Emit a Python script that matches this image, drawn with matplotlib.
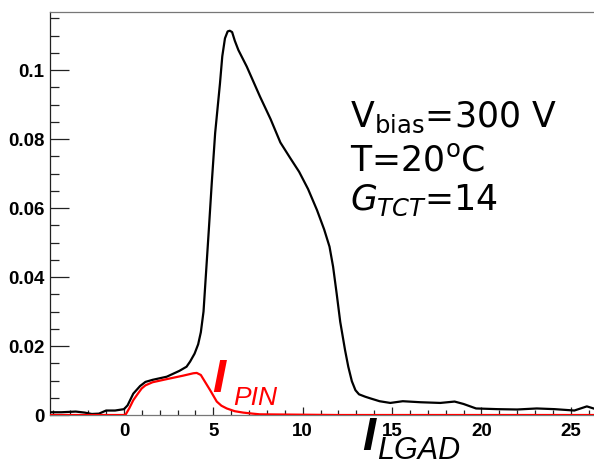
import matplotlib

matplotlib.use('Agg')
import matplotlib.pyplot as plt
from matplotlib.ticker import MultipleLocator, FuncFormatter

# LGAD response (black), time in ns vs. amplitude
t_lgad = [-4.1, -3.5, -2.7, -2.2, -1.8, -1.4, -1.0, -0.5, 0.0, 0.2, 0.52, 0.9, 1.2,
          1.6, 2.39, 3.1, 3.5, 3.7, 3.95, 4.15, 4.3, 4.45, 4.6, 4.75, 4.91, 5.1,
          5.28, 5.37, 5.5, 5.65, 5.8, 5.92, 6.05, 6.2, 6.4, 6.87, 7.61, 8.2, 8.75,
          9.3, 9.8, 10.3, 10.8, 11.2, 11.5, 11.7, 11.9, 12.1, 12.37, 12.55, 12.75,
          12.95, 13.15, 13.5, 13.8, 14.3, 14.9, 15.6, 16.6, 17.7, 18.5, 19.0, 19.7,
          20.9, 22.0, 23.1, 24.1, 25.2, 25.9, 26.4]
a_lgad = [0.0008, 0.0008, 0.001, 0.0007, 0.0003, 0.0004, 0.0013, 0.0013, 0.0017,
          0.0028, 0.0062, 0.0084, 0.0096, 0.0102, 0.0111, 0.0128, 0.014, 0.0155,
          0.0178, 0.0205, 0.0240, 0.0300, 0.0420, 0.0540, 0.0672, 0.0817, 0.0913,
          0.0961, 0.1040, 0.1092, 0.1112, 0.1114, 0.1110, 0.1085, 0.1058, 0.101,
          0.0923, 0.0858, 0.0790, 0.0745, 0.0705, 0.0655, 0.0594, 0.0538, 0.0488,
          0.0430, 0.0352, 0.0270, 0.0188, 0.0140, 0.0098, 0.0072, 0.0060, 0.0053,
          0.0048, 0.0040, 0.0035, 0.004, 0.0037, 0.0035, 0.0039, 0.0032, 0.0019,
          0.0017, 0.0016, 0.0019, 0.0017, 0.0013, 0.0025, 0.0017]

# PIN response (red)
t_pin = [-4.2, 0.0, 0.1, 0.3, 0.52, 0.75, 0.99, 1.2, 1.6, 2.39, 3.3, 3.88, 4.07,
         4.3, 4.5, 4.82, 5.19, 5.45, 5.75, 6.2, 6.67, 7.2, 7.6, 12.0, 26.4]
a_pin = [0.0, 0.0, 0.0002, 0.002, 0.0043, 0.006, 0.0077, 0.0086, 0.0095, 0.0104,
         0.0114, 0.0121, 0.0122, 0.0116, 0.0099, 0.0072, 0.0039, 0.0027, 0.0019,
         0.0011, 0.0007, 0.0004, 0.0002, 0.0, 0.0]

x_range = (-4.14, 26.3)
y_range = (0.0, 0.1168)

plt.rcParams['font.family'] = 'Liberation Sans'
plt.rcParams['mathtext.fontset'] = 'dejavusans'

fig = plt.figure(figsize=(5.94, 4.65), dpi=100)
ax = fig.add_axes([0.0842, 0.1075, 1.0 - 0.0842, 0.974 - 0.1075])

ax.plot(t_lgad, a_lgad, color='black', lw=1.6, zorder=3)
ax.plot(t_pin, a_pin, color='#ff0000', lw=1.6, zorder=4)

ax.set_xlim(*x_range)
ax.set_ylim(*y_range)

ax.spines['right'].set_visible(False)
ax.spines['left'].set_color('#222222')
ax.spines['top'].set_color('#777777')
ax.spines['bottom'].set_color('#777777')
for s in ax.spines.values():
    s.set_linewidth(0.9)

ax.xaxis.set_major_locator(MultipleLocator(5))
ax.xaxis.set_minor_locator(MultipleLocator(1))
ax.yaxis.set_major_locator(MultipleLocator(0.02))
ax.yaxis.set_minor_locator(MultipleLocator(0.005))
ax.yaxis.set_major_formatter(FuncFormatter(lambda v, p: '0' if abs(v) < 1e-9 else f'{v:g}'))

ax.tick_params(axis='y', which='major', direction='in', length=13.5, width=0.9, pad=4,
               color='#222222', labelsize=13.5)
ax.tick_params(axis='y', which='minor', direction='in', length=6.5, width=0.9, color='#222222')
ax.tick_params(axis='x', which='major', direction='in', length=5.5, width=0.9, pad=6,
               color='#222222', labelsize=13.5)
ax.tick_params(axis='x', which='minor', direction='in', length=3.5, width=0.9, color='#222222')
for lab in ax.get_xticklabels() + ax.get_yticklabels():
    lab.set_fontweight('bold')

# run conditions
big = dict(family='DejaVu Sans', size=25, color='black', transform=ax.transAxes)
ax.text(0.551, 0.715, r'V$_{\mathrm{bias}}$=300 V', **big)
ax.text(0.551, 0.608, r'T=20$^{\mathrm{o}}$C', **big)
ax.text(0.551, 0.509, r'$G_{TCT}$=14', **big)

# curve labels
ax.text(4.95, 0.0066, 'I', family='Liberation Sans', style='italic', weight='bold',
        size=34, color='#ff0000', ha='left', va='baseline')
ax.text(6.1, 0.0029, 'PIN', family='Liberation Sans', style='italic',
        size=19, color='#ff0000', ha='left', va='baseline')
ax.text(13.3, -0.0102, 'I', family='Liberation Sans', style='italic', weight='bold',
        size=34, color='black', ha='left', va='baseline', clip_on=False)
ax.text(14.15, -0.0127, 'LGAD', family='Liberation Sans', style='italic',
        size=22, color='black', ha='left', va='baseline', clip_on=False)

fig.savefig('out.png', dpi=100)
